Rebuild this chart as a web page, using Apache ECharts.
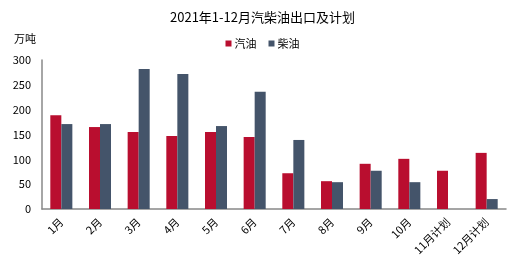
<!DOCTYPE html>
<html><head><meta charset="utf-8">
<script src="https://cdn.jsdelivr.net/npm/echarts@6/dist/echarts.min.js"></script>
<style>html,body{margin:0;padding:0;background:#fff}#c{width:525px;height:268px}</style>
</head><body><div id="c"></div>
<script>
const categories = ['1月','2月','3月','4月','5月','6月','7月','8月','9月','10月','11月计划','12月计划'];
const gasoline = [189,165,155,147,155,145,72,56,91,101,77,113];
const diesel = [171,171,282,272,167,236,139,54,77,54,null,20];
const yTicks = {min:0, max:300, interval:50};
const font = '"Noto Sans CJK SC", "Liberation Serif", serif';
const chart = echarts.init(document.getElementById('c'), null, {renderer:'canvas'});
chart.setOption({
  animation:false,
  title:{text:'2021年1-12月汽柴油出口及计划', left:'center', top:6,
    textStyle:{fontSize:13, fontWeight:'normal', color:'#000', fontFamily:font}},
  legend:{top:33, left:'center', itemWidth:6, itemHeight:6, itemGap:12, icon:'rect',
    textStyle:{fontSize:11, color:'#000', fontFamily:font, padding:[0,0,0,-2]},
    data:['汽油','柴油']},
  graphic:[{type:'text', left:14, top:33, style:{text:'万吨', fontSize:11, fill:'#000', fontFamily:font}}],
  grid:{left:42, right:19, top:60, bottom:59, containLabel:false},
  xAxis:{type:'category', data:categories,
    axisLine:{lineStyle:{color:'#888', width:1.5}},
    axisTick:{inside:true, length:3, lineStyle:{color:'#888', width:1.5}},
    axisLabel:{rotate:45, fontSize:11, color:'#000', fontFamily:font, margin:11, interval:0}},
  yAxis:{type:'value', min:yTicks.min, max:yTicks.max, interval:yTicks.interval,
    axisLine:{show:true, lineStyle:{color:'#888', width:1.5}},
    axisTick:{show:false},
    splitLine:{show:false},
    axisLabel:{fontSize:11, color:'#000', fontFamily:font, margin:11}},
  series:[
    {name:'汽油', type:'bar', data:gasoline, itemStyle:{color:'#B90E2F'}, barGap:'0%', barCategoryGap:'43%'},
    {name:'柴油', type:'bar', data:diesel, itemStyle:{color:'#44546A'}, barGap:'0%', barCategoryGap:'43%'}
  ]
});
</script></body></html>
